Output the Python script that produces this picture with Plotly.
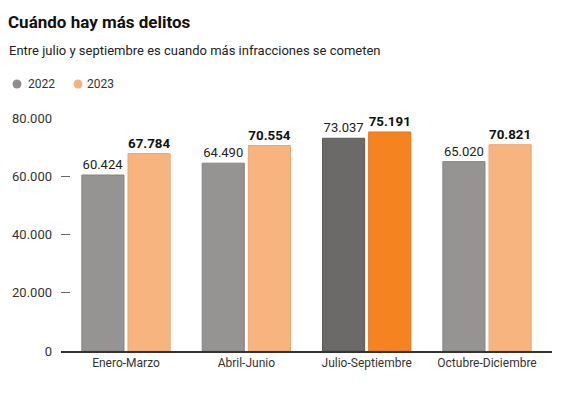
import plotly.graph_objects as go

categories = ["Enero-Marzo", "Abril-Junio", "Julio-Septiembre", "Octubre-Diciembre"]
values_2022 = [60424, 64490, 73037, 65020]
values_2023 = [67784, 70554, 75191, 70821]
colors_2022 = ["#959492", "#959492", "#6b6a69", "#959492"]
colors_2023 = ["#f7b47f", "#f7b47f", "#f5831f", "#f7b47f"]
line_2022 = ["#858482", "#858482", "#5a5958", "#858482"]
line_2023 = ["#eaa670", "#eaa670", "#e0761a", "#eaa670"]
tick_vals = [0, 20000, 40000, 60000, 80000]
series_names = ["2022", "2023"]
legend_colors = ["#8f8e8c", "#f5b27c"]

FONT = "Roboto"
W, H = 561, 393
PLOT_LEFT, PLOT_RIGHT = 61, 552
PLOT_TOP, PLOT_BOTTOM = 118, 351

def fmt(v):
    return f"{v:,}".replace(",", ".")

def px_x(p):
    return (p - PLOT_LEFT) / (PLOT_RIGHT - PLOT_LEFT)

def px_y(p):
    return (PLOT_BOTTOM - p) / (PLOT_BOTTOM - PLOT_TOP)

fig = go.Figure()
fig.add_trace(go.Bar(
    x=categories, y=values_2022, name=series_names[0],
    marker=dict(color=colors_2022, line=dict(color=line_2022, width=1)),
    text=[fmt(v) for v in values_2022], textposition="outside",
    textfont=dict(family=FONT, size=13, color="#222"),
    cliponaxis=False, showlegend=False, hoverinfo="skip",
))
fig.add_trace(go.Bar(
    x=categories, y=values_2023, name=series_names[1],
    marker=dict(color=colors_2023, line=dict(color=line_2023, width=1)),
    text=[fmt(v) for v in values_2023], textposition="outside",
    textfont=dict(family=FONT, size=14, color="#111", weight="bold"),
    cliponaxis=False, showlegend=False, hoverinfo="skip",
))

# manual legend
shapes = []
annotations = []
legend_circle_x = [17, 78]
legend_text_x = [26, 85]
LEG_Y = 84
R = 4.5
for name, col, cx, tx in zip(series_names, legend_colors, legend_circle_x, legend_text_x):
    shapes.append(dict(type="circle", xref="paper", yref="paper",
                       x0=px_x(cx - R), x1=px_x(cx + R), y0=px_y(LEG_Y + R), y1=px_y(LEG_Y - R),
                       fillcolor=col, line=dict(width=0)))
    annotations.append(dict(text=name, xref="paper", yref="paper", x=px_x(tx), y=px_y(LEG_Y),
                            xanchor="left", yanchor="middle", showarrow=False,
                            font=dict(family=FONT, size=12, color="#333")))

annotations.append(dict(text="Entre julio y septiembre es cuando más infracciones se cometen",
                        xref="paper", yref="paper", x=px_x(7), y=px_y(50),
                        xanchor="left", yanchor="middle", showarrow=False,
                        font=dict(family=FONT, size=13, color="#222")))
annotations.append(dict(text="<b>Cuándo hay más delitos</b>",
                        xref="paper", yref="paper", x=px_x(6), y=px_y(22),
                        xanchor="left", yanchor="middle", showarrow=False,
                        font=dict(family=FONT, size=17, color="#111")))

fig.update_layout(
    width=W, height=H,
    margin=dict(l=PLOT_LEFT, r=W - PLOT_RIGHT, t=PLOT_TOP, b=H - PLOT_BOTTOM),
    paper_bgcolor="white", plot_bgcolor="white",
    separators=",.",
    barmode="group", bargap=0.233, bargroupgap=0.087,
    font=dict(family=FONT, color="#333"),
    showlegend=False,
    shapes=shapes,
    annotations=annotations,
)
fig.update_xaxes(range=[-0.54, 3.54], showline=True, linecolor="#333", linewidth=1.5,
                 ticks="", tickfont=dict(family=FONT, size=12, color="#333"), showgrid=False)
fig.update_yaxes(range=[0, 80000], tickvals=tick_vals, ticktext=[fmt(v) for v in tick_vals],
                 showgrid=False, zeroline=False, ticks="inside", ticklen=9, tickcolor="#666",
                 tickfont=dict(family=FONT, size=13, color="#333"), ticklabelstandoff=8)

fig.write_html("out.html", config={"displayModeBar": False},
               post_script="document.body.style.margin='0';document.body.style.padding='0';")
